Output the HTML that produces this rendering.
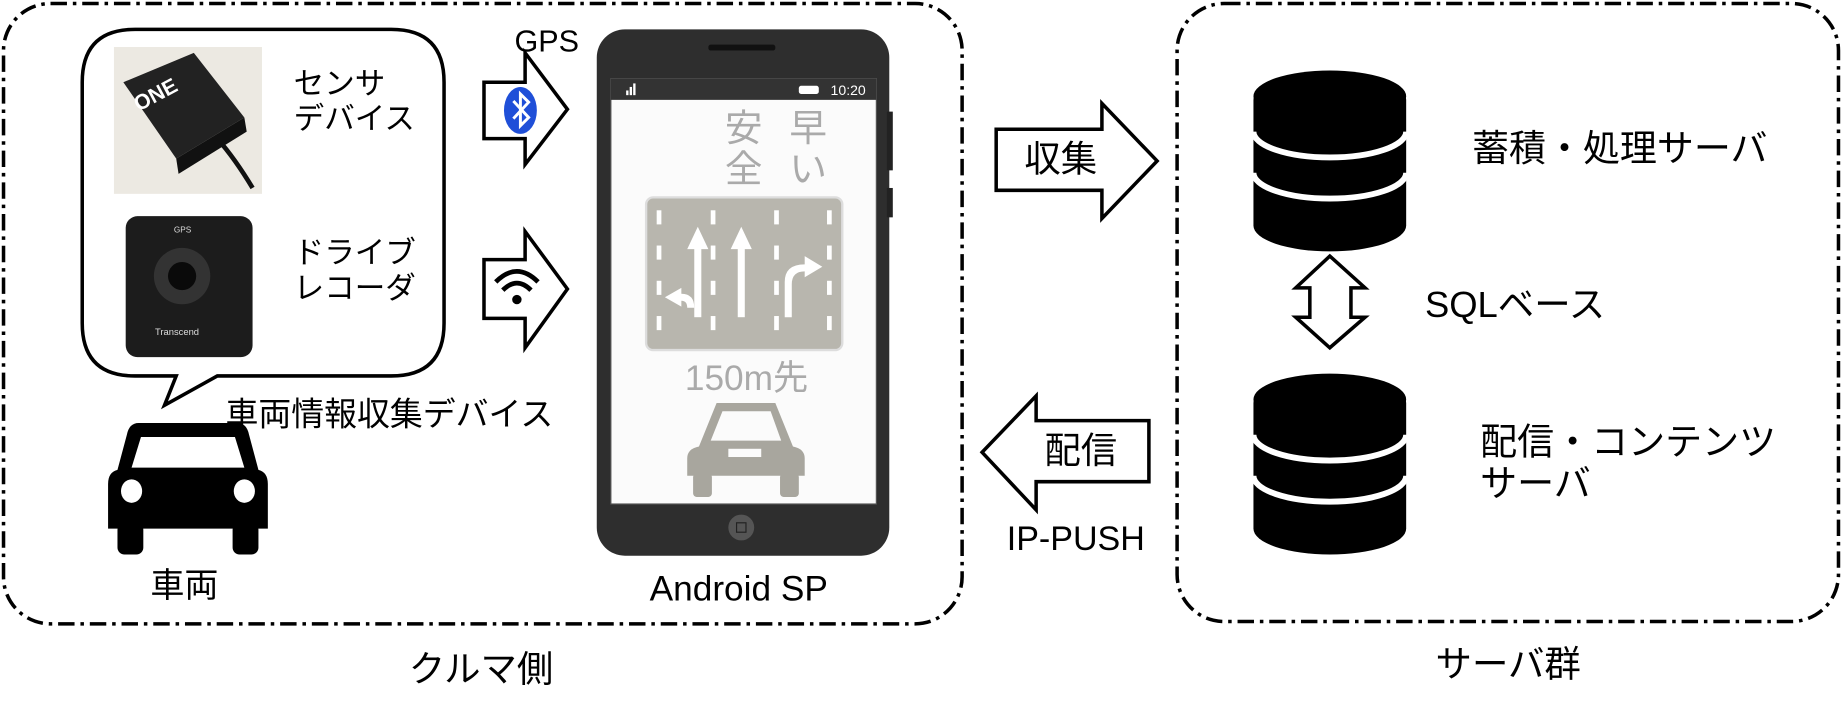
<!DOCTYPE html>
<html><head><meta charset="utf-8"><style>
html,body{margin:0;padding:0;background:#fff;}
svg{display:block;}
text{font-family:"Liberation Sans","Noto Sans CJK JP",sans-serif;}
</style></head><body>
<svg width="1842" height="719" viewBox="0 0 1568 612" preserveAspectRatio="none" xmlns="http://www.w3.org/2000/svg">
<rect x="3" y="3" width="816" height="528" rx="40" fill="none" stroke="#000" stroke-width="3" stroke-dasharray="14 5 3 5"/>
<rect x="1002" y="3" width="563" height="526" rx="40" fill="none" stroke="#000" stroke-width="3" stroke-dasharray="14 5 3 5"/>
<text x="348" y="580" font-size="31">クルマ側</text>
<text x="1222" y="576" font-size="31">サーバ群</text>

<path d="M115,25 H333 Q378,25 378,70 V275 Q378,320 333,320 H185 L140,345 L150,320 H115 Q70,320 70,275 V70 Q70,25 115,25 Z" fill="#fff" stroke="#000" stroke-width="3"/>
<rect x="97" y="40" width="126" height="125" fill="#ece9e2"/>
<path d="M105,70 L165,45 L208,100 L150,135 Z" fill="#222"/>
<path d="M150,135 L208,100 L210,112 L152,148 Z" fill="#111"/>
<text x="118" y="95" font-size="18" fill="#fff" font-weight="bold" transform="rotate(-28 118 95)">ONE</text>
<path d="M185,118 Q200,135 215,160" stroke="#111" stroke-width="4" fill="none"/>
<rect x="107" y="184" width="108" height="120" rx="10" fill="#1c1c1c"/>
<circle cx="155" cy="235" r="24" fill="#333"/><circle cx="155" cy="235" r="12" fill="#0a0a0a"/>
<text x="148" y="198" font-size="7" fill="#ddd">GPS</text>
<text x="132" y="285" font-size="8" fill="#ddd">Transcend</text>
<text x="250" y="80" font-size="26">センサ</text>
<text x="250" y="110" font-size="26">デバイス</text>
<text x="250" y="224" font-size="26">ドライブ</text>
<text x="250" y="254" font-size="26">レコーダ</text>
<text x="192" y="362" font-size="28">車両情報収集デバイス</text>

<path d="M118,360 H202 Q210,360 212,370 L220,400 Q228,402 228,412 V450 H92 V412 Q92,402 100,400 L108,370 Q110,360 118,360 Z" fill="#000"/>
<path d="M120,372 H200 L208,398 H112 Z" fill="#fff"/>
<ellipse cx="112" cy="418" rx="9" ry="10" fill="#fff"/><ellipse cx="208" cy="418" rx="9" ry="10" fill="#fff"/>
<rect x="100" y="445" width="22" height="27" rx="6" fill="#000"/><rect x="198" y="445" width="22" height="27" rx="6" fill="#000"/>
<text x="128" y="508" font-size="29">車両</text>

<path d="M412,70 H447 V45 L483,93 L447,140 V118 H412 Z" fill="#fff" stroke="#000" stroke-width="3"/>
<ellipse cx="443" cy="94" rx="14" ry="20" fill="#1f4fd8"/>
<path d="M437,86 L450,100 L443,107 V80 L450,87 L437,101" stroke="#fff" stroke-width="2.5" fill="none"/>
<text x="438" y="44" font-size="26">GPS</text>
<path d="M412,221 H447 V197 L483,246 L447,296 V271 H412 Z" fill="#fff" stroke="#000" stroke-width="3"/>
<path d="M422,240 Q440,222 458,240" stroke="#000" stroke-width="4" fill="none"/>
<path d="M428,247 Q440,235 452,247" stroke="#000" stroke-width="4" fill="none"/>
<circle cx="440" cy="255" r="4" fill="#000"/>

<rect x="508" y="25" width="249" height="448" rx="24" fill="#2e2e2e"/>
<rect x="755" y="95" width="5" height="50" fill="#222"/><rect x="755" y="160" width="5" height="25" fill="#222"/>
<rect x="603" y="38" width="57" height="5" rx="2" fill="#111"/>
<rect x="520" y="67" width="226" height="362" fill="#fbfbfb" stroke="#555"/>
<rect x="520" y="67" width="226" height="18" fill="#333"/>
<text x="707" y="81" font-size="12" fill="#fff" font-family="Liberation Serif">10:20</text>
<rect x="680" y="73" width="17" height="7" rx="2" fill="#fff"/>
<rect x="533" y="77" width="2" height="4" fill="#fff"/><rect x="536" y="74" width="2" height="7" fill="#fff"/><rect x="539" y="71" width="2" height="10" fill="#fff"/>
<circle cx="631" cy="449" r="11" fill="#555"/><rect x="627" y="445" width="8" height="8" fill="none" stroke="#222"/>
<text x="617" y="120" font-size="32" fill="#aaa">安</text><text x="617" y="155" font-size="32" fill="#aaa">全</text>
<text x="672" y="120" font-size="32" fill="#aaa">早</text><text x="672" y="155" font-size="32" fill="#aaa">い</text>
<rect x="550" y="168" width="167" height="130" rx="6" fill="#b8b6ae" stroke="#ddd" stroke-width="2"/>
<g fill="#fff">
<rect x="559" y="179" width="4" height="12"/><rect x="559" y="209" width="4" height="12"/><rect x="559" y="239" width="4" height="12"/><rect x="559" y="269" width="4" height="12"/>
<rect x="605" y="179" width="4" height="12"/><rect x="605" y="209" width="4" height="12"/><rect x="605" y="239" width="4" height="12"/><rect x="605" y="269" width="4" height="12"/>
<rect x="659" y="179" width="4" height="12"/><rect x="659" y="209" width="4" height="12"/><rect x="659" y="239" width="4" height="12"/><rect x="659" y="269" width="4" height="12"/>
<rect x="704" y="179" width="4" height="12"/><rect x="704" y="209" width="4" height="12"/><rect x="704" y="239" width="4" height="12"/><rect x="704" y="269" width="4" height="12"/>
<rect x="591" y="208" width="6" height="62"/><path d="M585,212 L594,193 L603,212 Z"/>
<rect x="628" y="208" width="6" height="62"/><path d="M622,212 L631,193 L640,212 Z"/>
<path d="M591,262 Q591,250 580,250 L580,245 L566,253 L580,261 L580,256 Q585,256 585,262 Z"/>
<path d="M668,270 V240 Q668,225 685,225 V218 L700,227 L685,236 V231 Q674,231 674,242 V270 Z"/>
</g>
<text x="583" y="332" font-size="30" fill="#aaa">150m先</text>
<path d="M610,343 H660 L675,380 Q685,382 685,390 V405 H585 V390 Q585,382 595,380 Z" fill="#a8a69e"/>
<path d="M615,350 H656 L665,375 H605 Z" fill="#fbfbfb"/>
<rect x="620" y="382" width="28" height="7" fill="#fbfbfb"/>
<rect x="590" y="403" width="16" height="20" rx="3" fill="#a8a69e"/><rect x="664" y="403" width="16" height="20" rx="3" fill="#a8a69e"/>
<text x="553" y="511" font-size="30">Android SP</text>

<path d="M848,110 H938 V88 L985,137 L938,186 V162 H848 Z" fill="#fff" stroke="#000" stroke-width="3"/>
<text x="872" y="146" font-size="31">収集</text>
<path d="M978,358 H882 V337 L836,385 L882,434 V410 H978 Z" fill="#fff" stroke="#000" stroke-width="3"/>
<text x="889" y="394" font-size="31">配信</text>
<text x="857" y="468" font-size="29">IP-PUSH</text>

<g>
<path d="M1067,85 A65,22 0 0 1 1197,85 V192 A65,22 0 0 1 1067,192 Z" fill="#000"/>
<ellipse cx="1132" cy="82" rx="65" ry="22" fill="#000"/>
<path d="M1067,112 A65,22 0 0 0 1197,112" stroke="#fff" stroke-width="5" fill="none"/>
<path d="M1067,147 A65,22 0 0 0 1197,147" stroke="#fff" stroke-width="5" fill="none"/>
</g>
<g transform="translate(0,258)">
<path d="M1067,85 A65,22 0 0 1 1197,85 V192 A65,22 0 0 1 1067,192 Z" fill="#000"/>
<ellipse cx="1132" cy="82" rx="65" ry="22" fill="#000"/>
<path d="M1067,112 A65,22 0 0 0 1197,112" stroke="#fff" stroke-width="5" fill="none"/>
<path d="M1067,147 A65,22 0 0 0 1197,147" stroke="#fff" stroke-width="5" fill="none"/>
</g>
<text x="1253" y="137" font-size="31.5">蓄積・処理サーバ</text>
<path d="M1132,218 L1162,245 H1150 V270 H1162 L1132,296 L1103,270 H1115 V245 H1103 Z" fill="#fff" stroke="#000" stroke-width="3"/>
<text x="1213" y="270" font-size="31">SQLベース</text>
<text x="1260" y="387" font-size="31.5">配信・コンテンツ</text>
<text x="1260" y="422" font-size="31.5">サーバ</text>
</svg>
</body></html>
